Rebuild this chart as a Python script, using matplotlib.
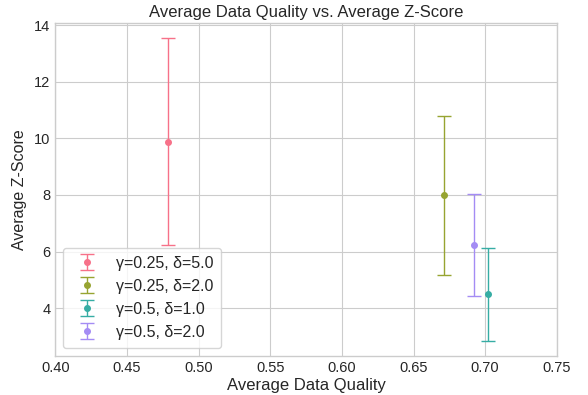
import numpy as np
import matplotlib.pyplot as plt
import seaborn as sns

labels = ["γ=0.25, δ=5.0", "γ=0.25, δ=2.0", "γ=0.5, δ=1.0", "γ=0.5, δ=2.0"]
quality = [0.479, 0.671, 0.702, 0.692]
zscore = [9.88, 7.98, 4.49, 6.24]
zerr = [3.66, 2.82, 1.64, 1.80]

plt.style.use('seaborn-v0_8-whitegrid')
plt.rcParams['font.family'] = ['Liberation Sans', 'DejaVu Sans']
plt.rcParams['text.color'] = '#262626'
plt.rcParams['axes.labelcolor'] = '#262626'
plt.rcParams['xtick.color'] = '#262626'
plt.rcParams['ytick.color'] = '#262626'
colors = sns.color_palette("husl", 4)

fig, ax = plt.subplots(figsize=(5.88, 3.95), dpi=100)
for i in range(len(labels)):
    ax.errorbar(quality[i], zscore[i], yerr=zerr[i], fmt='o', color=colors[i],
                markersize=4, capsize=5, elinewidth=1, capthick=1, label=labels[i])

ax.set_xlim(0.40, 0.75)
ax.set_title("Average Data Quality vs. Average Z-Score", fontsize=12, pad=4)
ax.set_xlabel("Average Data Quality", fontsize=12, labelpad=2)
ax.set_ylabel("Average Z-Score", fontsize=11.5, labelpad=5)
ax.tick_params(labelsize=10.5)
for s in ax.spines.values():
    s.set_visible(True)
    s.set_color('#cccccc')
ax.legend(loc='lower left', fontsize=11.5, frameon=True, borderpad=0.5)
fig.subplots_adjust(left=0.094, right=0.947, top=0.942, bottom=0.099)
plt.savefig("out.png")
